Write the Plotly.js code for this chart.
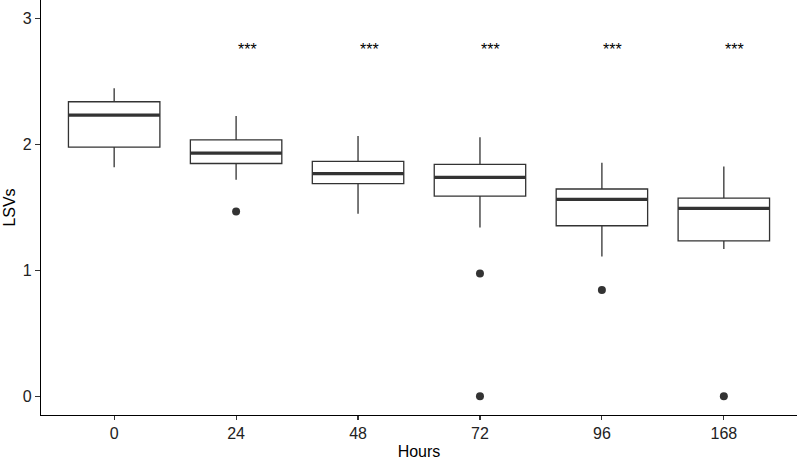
<!DOCTYPE html>
<html>
<head>
<meta charset="utf-8">
<script src="https://cdn.plot.ly/plotly-3.0.1.min.js"></script>
<style>html,body{margin:0;padding:0;background:#fff;}#chart{width:797px;height:462px;}</style>
</head>
<body>
<div id="chart"></div>
<script>
const hours = ["0", "24", "48", "72", "96", "168"];
const lowerWhisker = [1.82, 1.72, 1.45, 1.34, 1.11, 1.17];
const q1 = [1.98, 1.85, 1.69, 1.59, 1.355, 1.235];
const median = [2.235, 1.933, 1.77, 1.74, 1.565, 1.493];
const q3 = [2.341, 2.037, 1.867, 1.843, 1.647, 1.575];
const upperWhisker = [2.448, 2.227, 2.068, 2.058, 1.856, 1.827];
const outlierHour = ["24", "72", "72", "96", "168"];
const outlierValue = [1.469, 0.976, 0.0, 0.843, 0.0];
const signifLabel = ["", "***", "***", "***", "***", "***"];
const signifY = 2.75;

const idx = hours.map((h, i) => i);
const boxW = 0.75;
const ink = "#333333";
const font = "Liberation Sans, Arial, sans-serif";

const boxTrace = {
  type: "box",
  x: idx,
  q1: q1,
  median: median,
  q3: q3,
  lowerfence: lowerWhisker,
  upperfence: upperWhisker,
  width: boxW,
  whiskerwidth: 0,
  boxpoints: false,
  fillcolor: "white",
  line: {color: ink, width: 1.3},
  hoverinfo: "skip",
  showlegend: false
};

const outTrace = {
  type: "scatter",
  mode: "markers",
  x: outlierHour.map(h => hours.indexOf(h)),
  y: outlierValue,
  marker: {color: ink, size: 8},
  cliponaxis: false,
  hoverinfo: "skip",
  showlegend: false
};

const shapes = idx.map(i => ({
  type: "line", xref: "x", yref: "y",
  x0: i - boxW / 2, x1: i + boxW / 2, y0: median[i], y1: median[i],
  line: {color: ink, width: 3.2}, layer: "above"
}));

const annotations = idx.filter(i => signifLabel[i]).map(i => ({
  x: i, y: signifY, xref: "x", yref: "y",
  text: signifLabel[i], showarrow: false, xshift: 11, yshift: 1,
  xanchor: "center", yanchor: "middle",
  font: {family: font, size: 16, color: "#000"}
}));

const layout = {
  width: 797, height: 462,
  margin: {l: 41, r: 0, t: 0, b: 47, pad: 0},
  paper_bgcolor: "white", plot_bgcolor: "white",
  showlegend: false,
  font: {family: font, size: 16, color: "#000"},
  xaxis: {
    range: [-0.6, 5.6],
    tickmode: "array", tickvals: idx, ticktext: hours,
    showgrid: false, zeroline: false,
    showline: true, linecolor: "#000", linewidth: 1.1,
    ticks: "outside", ticklen: 4, tickcolor: ink, tickwidth: 1.1,
    tickfont: {family: font, size: 16, color: "#222222"},
    title: {text: "Hours", font: {family: font, size: 16, color: "#000"}, standoff: 4},
    automargin: false, fixedrange: true
  },
  yaxis: {
    range: [-0.15, 3.15],
    tickmode: "array", tickvals: [0, 1, 2, 3], ticktext: ["0", "1", "2", "3"],
    showgrid: false, zeroline: false,
    showline: true, linecolor: "#000", linewidth: 1.1,
    ticks: "outside", ticklen: 5, tickcolor: ink, tickwidth: 1.1,
    tickfont: {family: font, size: 16, color: "#222222"},
    title: {text: "LSVs", font: {family: font, size: 16, color: "#000"}, standoff: 3},
    automargin: false, fixedrange: true
  },
  shapes: shapes,
  annotations: annotations
};

Plotly.newPlot("chart", [boxTrace, outTrace], layout, {staticPlot: true, displayModeBar: false});
</script>
</body>
</html>
